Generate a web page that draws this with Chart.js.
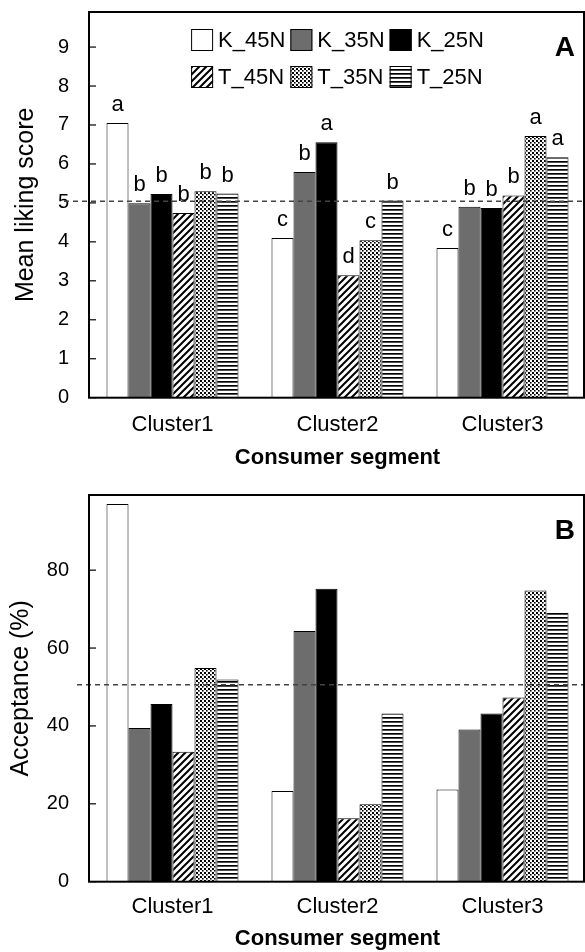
<!DOCTYPE html>
<html>
<head>
<meta charset="utf-8">
<script src="https://cdn.jsdelivr.net/npm/chart.js@4.4.0/dist/chart.umd.min.js"></script>
<style>
  html, body { margin: 0; padding: 0; background: #fff; }
  canvas { display: block; }
</style>
</head>
<body>
<canvas id="likingChart" width="585" height="476"></canvas>
<canvas id="acceptChart" width="585" height="476"></canvas>
<script>
// ---- data ----
var clusters = ['Cluster1', 'Cluster2', 'Cluster3'];
var seriesNames = ['K_45N', 'K_35N', 'K_25N', 'T_45N', 'T_35N', 'T_25N'];

// panel A: mean liking score
var likingK45 = [7.05, 4.10, 3.84];
var likingK35 = [4.99, 5.79, 4.90];
var likingK25 = [5.23, 6.56, 4.87];
var likingT45 = [4.74, 3.14, 5.19];
var likingT35 = [5.30, 4.04, 6.72];
var likingT25 = [5.24, 5.06, 6.17];

// significance letters above the bars of panel A
var lettersK45 = ['a', 'c', 'c'];
var lettersK35 = ['b', 'b', 'b'];
var lettersK25 = ['b', 'a', 'b'];
var lettersT45 = ['b', 'd', 'b'];
var lettersT35 = ['b', 'c', 'a'];
var lettersT25 = ['b', 'b', 'a'];

// panel B: acceptance (%)
var acceptK45 = [97.0, 23.3, 23.7];
var acceptK35 = [39.5, 64.4, 39.1];
var acceptK25 = [45.6, 75.2, 43.2];
var acceptT45 = [33.4, 16.3, 47.3];
var acceptT35 = [54.9, 19.9, 74.8];
var acceptT25 = [51.9, 43.2, 69.0];

var likingTicks = [0, 1, 2, 3, 4, 5, 6, 7, 8, 9];
var acceptTicks = [0, 20, 40, 60, 80];
var likingRef = 5.04;
var acceptRef = 50.6;

Chart.defaults.font.family = '"Liberation Sans", Arial, sans-serif';
Chart.defaults.color = '#000';

// ---- fill patterns ----
function makePattern(kind) {
  var c = document.createElement('canvas');
  var g = c.getContext('2d');
  if (kind == 'diag') {
    c.width = 7; c.height = 7;
    g.fillStyle = '#fff'; g.fillRect(0, 0, 7, 7);
    g.strokeStyle = '#000'; g.lineWidth = 2;
    g.beginPath();
    g.moveTo(-1, 8); g.lineTo(8, -1);
    g.moveTo(-4, 4); g.lineTo(4, -4);
    g.moveTo(3, 11); g.lineTo(11, 3);
    g.stroke();
  } else if (kind == 'dots') {
    c.width = 4; c.height = 4;
    g.fillStyle = '#fff'; g.fillRect(0, 0, 4, 4);
    g.fillStyle = '#000';
    g.fillRect(0, 0, 2, 2);
    g.fillRect(2, 2, 1.6, 1.6);
  } else {
    c.width = 4; c.height = 4;
    g.fillStyle = '#fff'; g.fillRect(0, 0, 4, 4);
    g.fillStyle = '#000'; g.fillRect(0, 1, 4, 1.7);
  }
  return g.createPattern(c, 'repeat');
}

var fills = ['#ffffff', '#6d6d6d', '#000000', makePattern('diag'), makePattern('dots'), makePattern('horiz')];

function makeDatasets(series) {
  return series.map(function (vals, i) {
    return {
      label: seriesNames[i],
      data: vals,
      backgroundColor: fills[i],
      borderColor: '#000',
      borderWidth: 1,
      categoryPercentage: 0.8,
      barPercentage: 1.0
    };
  });
}

// frame, inner ticks, dashed reference line, letters, legend, panel label
function makeDecor(cfg) {
  return {
    id: 'decor' + cfg.panel,
    afterDatasetsDraw: function (chart) {
      var ctx = chart.ctx, a = chart.chartArea, y = chart.scales.y;
      ctx.save();

      // dashed reference line
      var ry = y.getPixelForValue(cfg.ref);
      ctx.strokeStyle = '#444';
      ctx.lineWidth = 1.5;
      ctx.setLineDash([5, 4]);
      ctx.beginPath();
      ctx.moveTo(cfg.refStart, ry);
      ctx.lineTo(a.right, ry);
      ctx.stroke();
      ctx.setLineDash([]);

      // frame
      ctx.strokeStyle = '#000';
      ctx.lineWidth = 2;
      ctx.strokeRect(a.left - 1, a.top, a.right - a.left, a.bottom - a.top);

      // inner tick marks
      ctx.lineWidth = 1.2;
      y.ticks.forEach(function (t) {
        var py = y.getPixelForValue(t.value);
        ctx.beginPath();
        ctx.moveTo(a.left, py);
        ctx.lineTo(a.left + 6, py);
        ctx.stroke();
      });

      // letters above bars
      if (cfg.letters) {
        ctx.fillStyle = '#000';
        ctx.font = '22px "Liberation Sans", Arial';
        ctx.textAlign = 'center';
        ctx.textBaseline = 'alphabetic';
        cfg.letters.forEach(function (row, i) {
          var meta = chart.getDatasetMeta(i);
          row.forEach(function (l, j) {
            var bar = meta.data[j];
            ctx.fillText(l, bar.x, bar.y - 12);
          });
        });
      }

      // legend inside the plot
      if (cfg.legend) {
        ctx.font = '22px "Liberation Sans", Arial';
        ctx.textBaseline = 'middle';
        ctx.textAlign = 'left';
        var box = 22, gapText = 5, gapItem = 5;
        var colW = [0, 1, 2].map(function (c) {
          return Math.max(ctx.measureText(seriesNames[c]).width, ctx.measureText(seriesNames[c + 3]).width);
        });
        var total = colW.reduce(function (s, w) { return s + box + gapText + w; }, 0) + gapItem * 2;
        var x0 = (a.left + a.right) / 2 - total / 2;
        var rows = [a.top + 28, a.top + 65];
        for (var r = 0; r < 2; r++) {
          var x = x0;
          for (var c = 0; c < 3; c++) {
            var k = r * 3 + c;
            var cy = rows[r];
            ctx.fillStyle = fills[k];
            ctx.fillRect(x, cy - box / 2, box, box);
            ctx.strokeStyle = '#000';
            ctx.lineWidth = 1;
            ctx.strokeRect(x + 0.5, cy - box / 2 + 0.5, box - 1, box - 1);
            ctx.fillStyle = '#000';
            ctx.fillText(seriesNames[k], x + box + gapText, cy + 1);
            x += box + gapText + colW[c] + gapItem;
          }
        }
      }

      // panel label
      ctx.fillStyle = '#000';
      ctx.font = 'bold 28px "Liberation Sans", Arial';
      ctx.textAlign = 'right';
      ctx.textBaseline = 'alphabetic';
      ctx.fillText(cfg.panel, a.right - 10, a.top + 44);

      ctx.restore();
    }
  };
}

function makeChart(id, series, opts) {
  return new Chart(document.getElementById(id).getContext('2d'), {
    type: 'bar',
    data: { labels: clusters, datasets: makeDatasets(series) },
    options: {
      responsive: false,
      animation: false,
      layout: { padding: { top: opts.top, right: 0, left: 0, bottom: 0 } },
      plugins: { legend: { display: false }, tooltip: { enabled: false } },
      scales: {
        x: {
          grid: { display: false, drawTicks: false },
          border: { display: false },
          ticks: { padding: opts.xPad, font: { size: 22 } },
          title: { display: true, text: 'Consumer segment', font: { size: 22, weight: 'bold' }, padding: { top: 0, bottom: opts.xTitlePad } },
          afterFit: function (s) { s.height = opts.xHeight; }
        },
        y: {
          min: 0,
          max: opts.max,
          afterBuildTicks: function (s) { s.ticks = opts.ticks.map(function (v) { return { value: v }; }); },
          grid: { display: false, drawTicks: false },
          border: { display: false },
          ticks: { padding: 21, font: { size: 20 } },
          title: { display: true, text: opts.yTitle, font: { size: 25 }, padding: { top: opts.yTitlePad, bottom: 0 } },
          afterFit: function (s) { s.width = 90; s.paddingTop = 0; s.paddingBottom = 0; }
        }
      }
    },
    plugins: [makeDecor(opts.decor)]
  });
}

var likingChart = makeChart('likingChart',
  [likingK45, likingK35, likingK25, likingT45, likingT35, likingT25],
  {
    top: 12, max: 9.9, ticks: likingTicks, yTitle: 'Mean liking score', yTitlePad: 11,
    xHeight: 78.3, xPad: 14, xTitlePad: 5,
    decor: {
      panel: 'A', ref: likingRef, refStart: 64, legend: true,
      letters: [lettersK45, lettersK35, lettersK25, lettersT45, lettersT35, lettersT25]
    }
  });

var acceptChart = makeChart('acceptChart',
  [acceptK45, acceptK35, acceptK25, acceptT45, acceptT35, acceptT25],
  {
    top: 19, max: 99.3, ticks: acceptTicks, yTitle: 'Acceptance (%)', yTitlePad: 6,
    xHeight: 70.3, xPad: 12, xTitlePad: 0,
    decor: { panel: 'B', ref: acceptRef, refStart: 77, legend: false, letters: null }
  });
</script>
</body>
</html>
